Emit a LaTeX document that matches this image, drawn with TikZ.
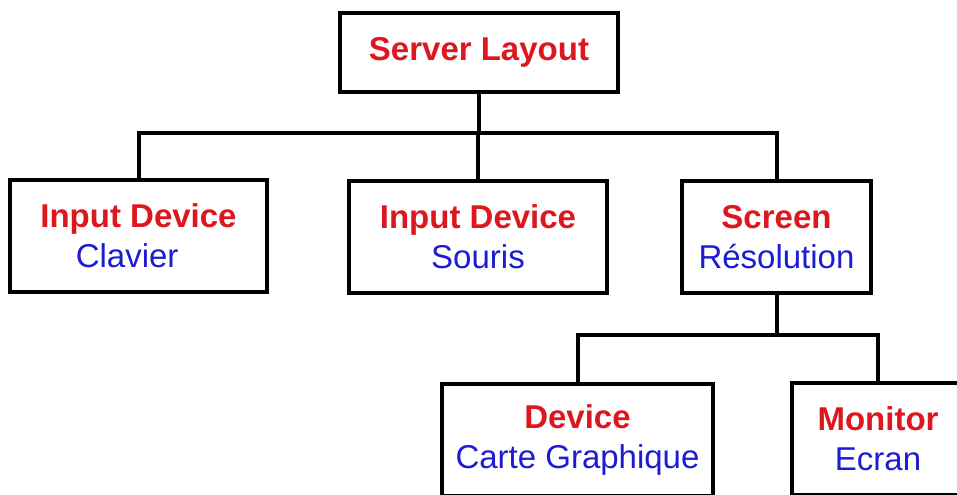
\documentclass[tikz,border=0pt]{standalone}
\usepackage{fontspec}
\setmainfont{Liberation Sans}
\definecolor{tred}{RGB}{222,22,30}
\definecolor{tblue}{RGB}{28,28,212}
\newcommand\redline[1]{\textcolor{tred}{\bfseries #1}}
\newcommand\blueline[1]{\textcolor{tblue}{#1}}
\begin{document}
\begin{tikzpicture}[x=0.75pt,y=-0.75pt,
  box/.style={draw=black,line width=3pt,fill=white,rectangle,inner sep=0pt,align=center,
    font=\fontsize{24.75}{30}\selectfont},
  wire/.style={draw=black,line width=3pt}]
\useasboundingbox (0,0) rectangle (957,495);
\clip (0,0) rectangle (957,495);
\fill[white] (0,0) rectangle (957,495);
\node[box,minimum width=278*0.75pt,minimum height=79*0.75pt] (srv) at (479,52.5) {\redline{Server Layout}};
\node[box,minimum width=257*0.75pt,minimum height=112*0.75pt] (clav) at (138.5,236) {\redline{Input Device}\\\blueline{Clavier}\hspace*{17pt}};
\node[box,minimum width=258*0.75pt,minimum height=112*0.75pt] (sour) at (478,237) {\redline{Input Device}\\\blueline{Souris}};
\node[box,minimum width=189*0.75pt,minimum height=112*0.75pt] (scr) at (776.5,237) {\redline{Screen}\\\blueline{Résolution}};
\node[box,minimum width=271*0.75pt,minimum height=112*0.75pt] (dev) at (577.5,440) {\redline{Device}\\\blueline{Carte Graphique}};
\node[box,minimum width=172*0.75pt,minimum height=112*0.75pt] (mon) at (878,439) {\redline{Monitor}\\\blueline{Ecran}};
\coordinate (j1) at (479,133);
\coordinate (j2) at (776.5,335);
\draw[wire] (srv.south) -- (j1);
\draw[wire,line cap=rect] (clav.north) |- (scr.north |- j1) -- (scr.north);
\draw[wire] (sour.north) -- (sour.north |- j1);
\draw[wire] (scr.south) -- (j2);
\draw[wire] (dev.north) |- (mon.north |- j2) -- (mon.north);
\end{tikzpicture}
\end{document}
